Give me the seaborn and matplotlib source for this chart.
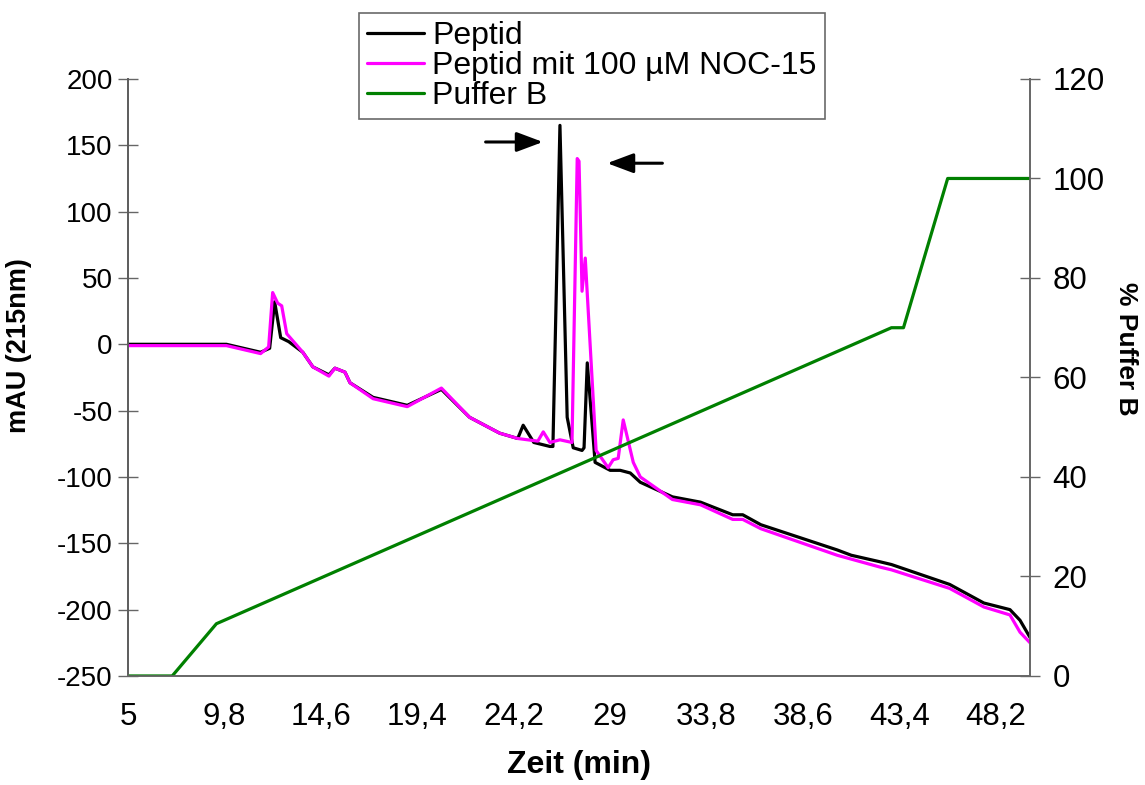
import pandas as pd
import matplotlib
matplotlib.use('Agg')
import matplotlib.pyplot as plt
import seaborn as sns
from matplotlib.lines import Line2D

# Chromatogram data (Zeit in min, mAU at 215nm)
peptid_t = [5, 9.9, 11.6, 12.05, 12.3, 12.6, 13.0, 13.7, 14.2, 15.0, 15.3, 15.8, 16.05,
            17.2, 18.9, 20.6, 22.0, 23.5, 24.4, 24.67, 25.2, 26.0, 26.15, 26.5, 26.86,
            27.16, 27.6, 27.7, 27.86, 28.25, 29.0, 29.5, 30.0, 30.5, 32.1, 33.5, 35.1,
            35.6, 36.5, 40.3, 41.0, 42.45, 43.0, 45.9, 47.6, 48.9, 49.4, 49.9]
peptid_mau = [0, 0, -6, -3, 32, 5, 2, -6, -17, -23, -18, -21, -29,
              -40, -46, -34, -55, -67, -71, -61, -74, -77, -77, 165, -55,
              -78, -80, -78, -14, -89, -95, -95, -97, -104, -115, -119, -128.5,
              -128.5, -136, -155, -159, -164, -166, -181, -195, -200, -208, -221]

noc_t = [5, 9.9, 11.6, 12.0, 12.2, 12.45, 12.65, 12.9, 13.7, 14.2, 15.0, 15.3, 15.8,
         16.05, 17.2, 18.9, 20.6, 22.0, 23.5, 24.4, 25.4, 25.67, 26.0, 26.5, 27.1,
         27.36, 27.45, 27.6, 27.76, 28.3, 28.9, 29.15, 29.4, 29.65, 30.15, 30.5, 32.1,
         33.5, 35.1, 35.6, 36.5, 40.3, 42.45, 43.0, 45.9, 47.6, 48.9, 49.4, 49.9]
noc_mau = [-1, -1, -7, -2, 39, 31, 29, 8, -6, -17, -24, -18, -21,
           -29, -41, -47, -33, -55, -67, -71, -73, -66, -74, -72, -74,
           140, 138, 40, 65, -80, -93, -87, -86, -57, -89, -100, -117,
           -121, -132, -132, -139, -159, -168, -170, -184, -198, -204, -217, -225]

# Gradient (% Puffer B)
puffer_t = [5, 7.2, 9.4, 43.0, 43.6, 45.8, 49.9]
puffer_b = [0, 0, 10.5, 70, 70, 100, 100]

x_ticks = [5, 9.8, 14.6, 19.4, 24.2, 29, 33.8, 38.6, 43.4, 48.2]

sns.set_style('white')
plt.rcParams['font.family'] = ['Liberation Sans', 'DejaVu Sans']
plt.rcParams['axes.unicode_minus'] = False
plt.rcParams['text.color'] = 'black'
plt.rcParams['axes.labelcolor'] = 'black'

fig = plt.figure(figsize=(11.45, 7.85), dpi=100)
ax = fig.add_axes([0.1118, 0.1389, 0.7878, 0.7605])

pep_df = pd.DataFrame({'Zeit': peptid_t, 'mAU': peptid_mau})
noc_df = pd.DataFrame({'Zeit': noc_t, 'mAU': noc_mau})
puf_df = pd.DataFrame({'Zeit': puffer_t, 'B': puffer_b})

sns.lineplot(data=pep_df, x='Zeit', y='mAU', ax=ax, color='black', lw=2.3, sort=False)
sns.lineplot(data=noc_df, x='Zeit', y='mAU', ax=ax, color='#ff00ff', lw=2.3, sort=False)
ax.lines[0].set_zorder(1.5)
ax.lines[1].set_zorder(2)

ax2 = ax.twinx()
sns.lineplot(data=puf_df, x='Zeit', y='B', ax=ax2, color='#008000', lw=2.3, sort=False)

ax.set_xlim(5, 49.9)
ax.set_ylim(-250, 200)
ax2.set_ylim(0, 120)
ax.set_xticks(x_ticks)
ax.set_xticklabels([str(v).replace('.', ',') for v in x_ticks])
ax.set_yticks(range(-250, 201, 50))
ax2.set_yticks(range(0, 121, 20))

ax.set_xlabel('Zeit (min)', fontsize=23, fontweight='bold', labelpad=13)
ax.set_ylabel('mAU (215nm)', fontsize=19.5, fontweight='bold')
ax2.set_ylabel('% Puffer B', fontsize=19, fontweight='bold', rotation=270, va='center')
ax.yaxis.set_label_coords(-0.106, 0.554)
ax2.yaxis.set_label_coords(1.106, 0.548)

spine_col = '#666666'
for a in (ax, ax2):
    a.spines['top'].set_visible(False)
    for s in ('left', 'right', 'bottom'):
        a.spines[s].set_color(spine_col)
        a.spines[s].set_linewidth(1.2)
ax.spines['left'].set_color('#222222')
ax.tick_params(axis='x', direction='in', length=7, width=1, color=spine_col,
               labelsize=22.5, labelcolor='black', pad=19)
ax.tick_params(axis='y', direction='inout', length=14, width=1, color=spine_col,
               labelsize=20, labelcolor='black', pad=4)
ax2.tick_params(axis='y', direction='inout', length=14, width=1, color=spine_col,
                labelsize=22.5, labelcolor='black', pad=9)

# peak arrows
arrow = dict(arrowstyle='-|>,head_length=1.6,head_width=0.6', color='black', lw=2.2,
             shrinkA=0, shrinkB=0)
ax.annotate('', xy=(25.65, 152.5), xytext=(22.8, 152.5), arrowprops=arrow)
ax.annotate('', xy=(28.85, 136.5), xytext=(31.6, 136.5), arrowprops=arrow)

handles = [Line2D([], [], color='black', lw=2.3),
           Line2D([], [], color='#ff00ff', lw=2.3),
           Line2D([], [], color='#008000', lw=2.3)]
labels = ['Peptid', 'Peptid mit 100 µM NOC-15', 'Puffer B']
leg = fig.legend(handles, labels, loc='upper left', bbox_to_anchor=(359 / 1145, 1 - 13 / 785),
                 fontsize=23, frameon=True, fancybox=False, shadow=False,
                 borderpad=0.25, labelspacing=0.0, handlelength=1.8, handletextpad=0.25,
                 borderaxespad=0)
leg.get_frame().set_edgecolor('#444444')
leg.get_frame().set_linewidth(1.2)
for t in leg.get_texts():
    t.set_color('black')

fig.savefig('out.png', dpi=100)
